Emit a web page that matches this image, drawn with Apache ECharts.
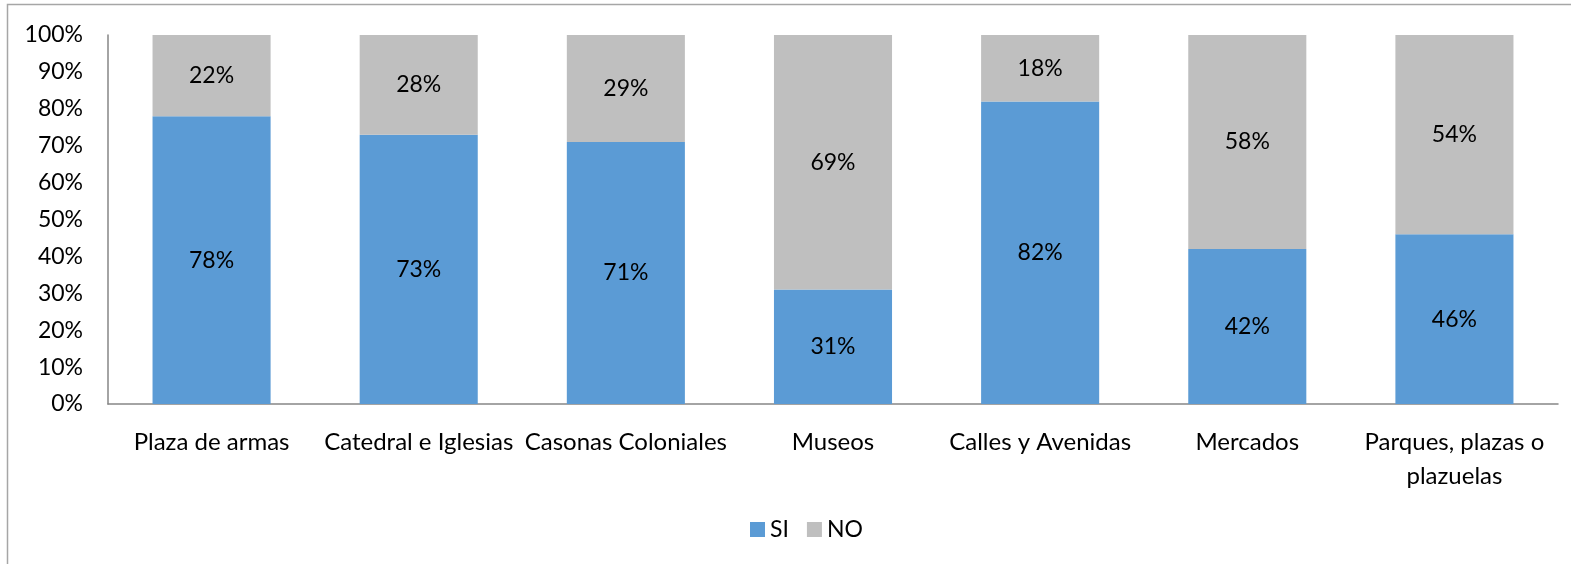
<!DOCTYPE html>
<html><head><meta charset="utf-8">
<script src="https://cdn.jsdelivr.net/npm/echarts@6/dist/echarts.min.js"></script>
<style>html,body{margin:0;padding:0;background:#fff}#c{width:1571px;height:564px}</style>
</head><body><div id="c"></div>
<script>
const categories = ['Plaza de armas','Catedral e Iglesias','Casonas Coloniales','Museos','Calles y Avenidas','Mercados','Parques, plazas o\nplazuelas'];
const siValues = [78,73,71,31,82,42,46];
const noValues = [22,28,29,69,18,58,54];
const FONT = 'Lato';
const chart = echarts.init(document.getElementById('c'));
chart.setOption({
  animation:false,
  textStyle:{fontFamily:FONT},
  graphic:[{type:'rect',shape:{x:7.5,y:4.5,width:1700,height:700},style:{fill:'none',stroke:'#A6A6A6',lineWidth:1.5},silent:true,z:-1}],
  grid:{left:108,right:13,top:35,bottom:160},
  legend:{data:['SI','NO'],top:513,left:745,itemWidth:15,itemHeight:15,itemGap:18,icon:'rect',
    textStyle:{fontFamily:FONT,fontSize:23,color:'#000'}},
  xAxis:{type:'category',data:categories,
    axisLine:{lineStyle:{color:'#868686',width:1.5}},axisTick:{show:false},
    axisLabel:{interval:0,color:'#000',fontSize:24,fontFamily:FONT,margin:21,lineHeight:34}},
  yAxis:{type:'value',min:0,max:100,interval:10,
    axisLine:{show:true,lineStyle:{color:'#868686',width:1.5}},axisTick:{show:false},splitLine:{show:false},
    axisLabel:{formatter:v=>v+'%',color:'#000',fontSize:23,fontFamily:FONT,margin:25}},
  series:[
    {name:'SI',type:'bar',stack:'a',data:siValues,barWidth:'57%',itemStyle:{color:'#5B9BD5'},
      label:{show:true,position:'inside',formatter:p=>p.value+'%',color:'#000',fontSize:23,fontFamily:FONT}},
    {name:'NO',type:'bar',stack:'a',data:noValues,barWidth:'57%',itemStyle:{color:'#BFBFBF'},
      label:{show:true,position:'inside',formatter:p=>p.value+'%',color:'#000',fontSize:23,fontFamily:FONT}}
  ]
});
</script></body></html>
